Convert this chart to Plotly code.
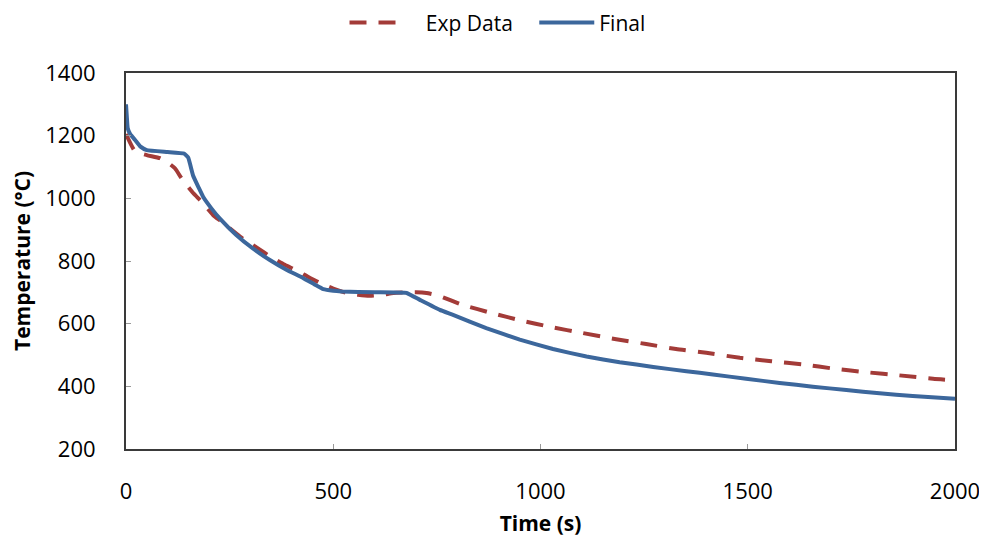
import plotly.graph_objects as go

# Experimental data (dashed)
exp_t = [0, 22, 50, 82, 100, 118, 134, 162, 182, 210, 230, 275, 323, 347, 383, 411,
         444, 476, 500, 532, 560, 588, 620, 645, 700, 725, 757, 810, 882, 950, 1026,
         1102, 1179, 1255, 1327, 1400, 1481, 1557, 1633, 1710, 1786, 1866, 1947, 2000]
exp_T = [1205, 1150, 1138, 1128, 1115, 1096, 1064, 1017, 990, 947, 926, 878, 836, 815,
         788, 770, 746, 725, 712, 698, 692, 689, 692, 698, 700, 698, 688, 661, 634, 611,
         589, 570, 551, 535, 519, 507, 491, 480, 470, 456, 445, 435, 424, 419]

# Final model (solid)
fin_t = [0, 2, 4, 10, 22, 35, 50, 100, 140, 150, 162, 175, 186, 206, 226, 266, 306,
         347, 387, 427, 455, 476, 500, 520, 600, 677, 709, 757, 789, 869, 950, 1030,
         1111, 1191, 1272, 1352, 1416, 1496, 1577, 1657, 1738, 1818, 1898, 2000]
fin_T = [1300, 1260, 1225, 1205, 1186, 1165, 1154, 1148, 1143, 1130, 1072, 1035, 1005,
         968, 936, 883, 840, 803, 772, 746, 725, 710, 705, 703, 700, 698, 676, 644, 628,
         586, 549, 519, 495, 477, 462, 448, 438, 424, 411, 399, 388, 378, 369, 360]

x_ticks = [0, 500, 1000, 1500, 2000]
y_ticks = [200, 400, 600, 800, 1000, 1200, 1400]

FONT = "Open Sans"
NB = "\u00a0"

fig = go.Figure()
fig.add_trace(go.Scatter(x=exp_t, y=exp_T, mode="lines", name=NB * 3 + "Exp Data" + NB * 3,
                         line=dict(color="#A33B38", width=4, dash="17px,12px",
                                   shape="spline", smoothing=0.5)))
fig.add_trace(go.Scatter(x=fin_t, y=fin_T, mode="lines", name="Final",
                         line=dict(color="#3C679C", width=4,
                                   shape="spline", smoothing=0.3)))

axis_common = dict(showgrid=False, zeroline=False, showline=True, mirror=True,
                   linecolor="#3a3a3a", linewidth=2, ticks="inside", ticklen=5,
                   tickcolor="#999999", tickwidth=1, automargin=False,
                   tickfont=dict(family=FONT, size=22, color="#000000"))

fig.update_xaxes(range=[0, 2000], tickvals=x_ticks, ticklabelstandoff=22,
                 title=dict(text="<b>Time (s)</b>", font=dict(family=FONT, size=21, color="#000"),
                            standoff=12),
                 **axis_common)
fig.update_yaxes(range=[200, 1400], tickvals=y_ticks, ticklabelstandoff=24,
                 title=dict(text="<b>Temperature (°C)</b>", font=dict(family=FONT, size=21, color="#000"),
                            standoff=10),
                 **axis_common)

fig.update_layout(
    width=979, height=533,
    margin=dict(l=118, r=32, t=65, b=92, autoexpand=False),
    paper_bgcolor="white", plot_bgcolor="white",
    showlegend=True,
    legend=dict(orientation="h", x=0.5, xanchor="center", xref="container",
                y=0.972, yanchor="middle", yref="container",
                font=dict(family=FONT, size=21, color="#000"),
                itemwidth=55, bgcolor="rgba(0,0,0,0)"),
)

fig.write_html("out.html")
